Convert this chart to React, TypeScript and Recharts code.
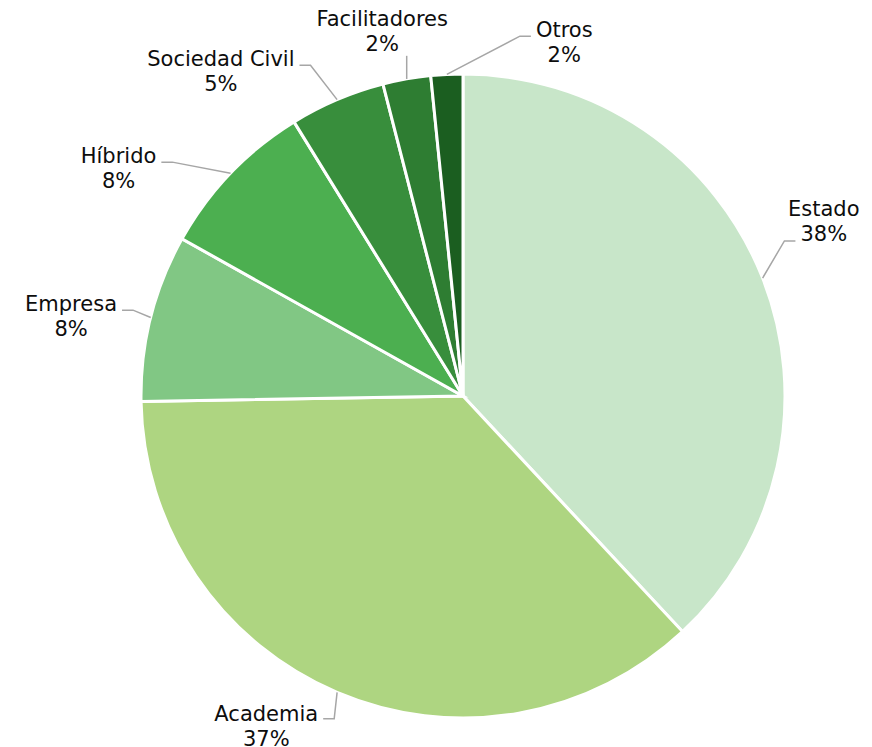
// App.tsx
import { PieChart, Pie, Cell } from 'recharts';

const categories = ['Estado', 'Academia', 'Empresa', 'Híbrido', 'Sociedad Civil', 'Facilitadores', 'Otros'];
const shares = [38.1, 36.7, 8.4, 8.1, 4.8, 2.4, 1.6];
const colors = ['#C8E6C9', '#AED581', '#81C784', '#4CAF50', '#388E3C', '#2E7D32', '#1B5E20'];

// label placement: angle shift from slice middle (deg), distance from centre, where the leader meets the text
const labelLayout: Record<string, { shift: number; dist: number; lineDy: number; vertical?: boolean }> = {
  Estado: { shift: 4.4, dist: 401, lineDy: 20 },
  Academia: { shift: -7.8, dist: 384, lineDy: -7 },
  Empresa: { shift: 2.6, dist: 400, lineDy: -6 },
  'Híbrido': { shift: 10.3, dist: 413, lineDy: -6 },
  'Sociedad Civil': { shift: 13.7, dist: 405, lineDy: -6 },
  Facilitadores: { shift: 2.4, dist: 374, lineDy: 0, vertical: true },
  Otros: { shift: -18.85, dist: 368, lineDy: -6 },
};

const chartData = categories.map((name, i) => ({ name, value: shares[i] }));

const FONT = "'DejaVu Sans', Verdana, sans-serif";
const FONT_SIZE = 21;
const RAD = Math.PI / 180;

let ctx: CanvasRenderingContext2D | null = null;
const textWidth = (s: string) => {
  if (!ctx) ctx = document.createElement('canvas').getContext('2d');
  if (!ctx) return s.length * FONT_SIZE * 0.6;
  ctx.font = `${FONT_SIZE}px ${FONT}`;
  return ctx.measureText(s).width;
};

const renderLabel = (props: any) => {
  const { cx, cy, midAngle, outerRadius, name, percent } = props;
  const layout = labelLayout[name];
  const ang = (midAngle + layout.shift) * RAD;
  const lx = cx + layout.dist * Math.cos(ang);
  const ly = cy - layout.dist * Math.sin(ang);
  const pct = `${Math.round(percent * 100)}%`;

  // leader starts on the pie edge at the slice middle
  const sx = cx + outerRadius * Math.cos(midAngle * RAD);
  const sy = cy - outerRadius * Math.sin(midAngle * RAD);

  let points: string;
  if (layout.vertical) {
    points = `${sx},${sy} ${sx},${ly + 25}`;
  } else {
    const onRight = lx > sx;
    const ey = ly + layout.lineDy;
    const half = layout.lineDy > 10 ? textWidth(pct) / 2 : textWidth(name) / 2;
    const ex = onRight ? lx - half - 5 : lx + half + 5;
    const bx = onRight ? ex - 11 : ex + 11;
    points = `${sx},${sy} ${bx},${ey} ${ex},${ey}`;
  }

  return (
    <g key={`lbl-${name}`}>
      <polyline points={points} fill="none" stroke="#a6a6a6" strokeWidth={1.5} />
      <text x={lx} y={ly - 5} textAnchor="middle" fill="#0d0d0d" fontFamily={FONT} fontSize={FONT_SIZE}>
        {name}
      </text>
      <text x={lx} y={ly + 20} textAnchor="middle" fill="#0d0d0d" fontFamily={FONT} fontSize={FONT_SIZE}>
        {pct}
      </text>
    </g>
  );
};

const App = () => {
  return (
    <div style={{ position: 'absolute', left: 0, top: 0, background: '#fff' }}>
      <PieChart width={872} height={747} margin={{ top: 0, right: 0, bottom: 0, left: 0 }}>
        <Pie
          data={chartData}
          dataKey="value"
          nameKey="name"
          cx={463}
          cy={396}
          outerRadius={322}
          startAngle={90}
          endAngle={-270}
          stroke="#ffffff"
          strokeWidth={3}
          label={renderLabel}
          labelLine={false}
          isAnimationActive={false}
        >
          {chartData.map((entry, i) => (
            <Cell key={entry.name} fill={colors[i]} />
          ))}
        </Pie>
      </PieChart>
    </div>
  );
};

export default App;
